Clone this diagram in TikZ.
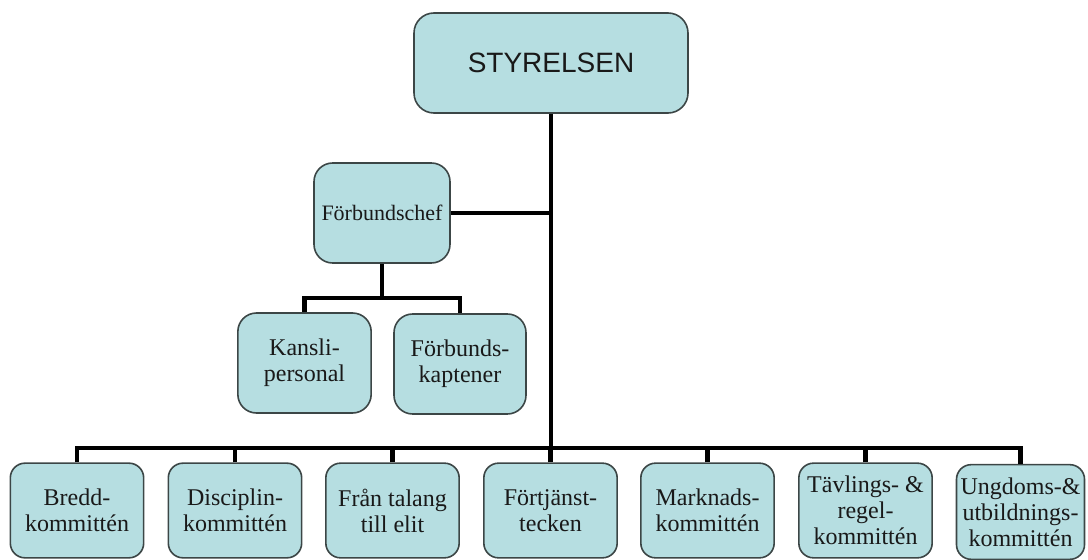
\documentclass[tikz,border=0pt]{standalone}
\usepackage{fontspec}
\setmainfont{Liberation Serif}
\newfontfamily\headfont{Liberation Sans}
\usepackage{xcolor}
\definecolor{boxfill}{RGB}{182,222,225}
\definecolor{boxline}{RGB}{60,70,70}

\begin{document}
\begin{tikzpicture}[x=0.75pt, y=-0.75pt,
		unit/.style={draw=boxline, line width=1.2pt, fill=boxfill, rounded corners=11pt, align=center, inner sep=0pt, text=black!90, font=\fontsize{18}{19.5}\selectfont},
		board/.style={unit, minimum width=205.5pt, minimum height=75pt, rounded corners=15pt, font=\headfont\fontsize{21}{24}\selectfont},
		mid/.style={unit, minimum width=100pt, minimum height=75pt, rounded corners=14pt},
		comm/.style={unit, minimum width=100pt, minimum height=71pt},
		link/.style={line width=3.4pt}]
	\useasboundingbox (0,0) rectangle (1088,560);
	
	\node[board] (styrelsen) at (551,63) {STYRELSEN};
	
	\node[mid, minimum width=102pt, font=\fontsize{16.5}{18}\selectfont] (chef) at (382,213) {Förbundschef};
	\node[mid] (kansli) at (304.5,363) {Kansli-\\personal};
	\node[mid, minimum width=99pt] (kaptener) at (460,364) {Förbunds-\\kaptener};
	
	\node[comm] (bredd) at (77,510.5) {Bredd-\\kommittén};
	\node[comm] (disciplin) at (235,510.5) {Disciplin-\\kommittén};
	\node[comm] (talang) at (392.5,510.5) {Från talang\\till elit};
	\node[comm] (fortjanst) at (550.5,510.5) {Förtjänst-\\tecken};
	\node[comm] (marknad) at (707.5,510.5) {Marknads-\\kommittén};
	\node[comm] (tavling) at (865.5,510.5) {Tävlings- \&\\regel-\\kommittén};
	\node[comm, minimum width=96pt] (ungdom) at (1020.5,512) {Ungdoms-\&\\utbildnings-\\kommittén};
	
	\coordinate (bus) at (551,448);
	\coordinate (subbus) at (382,298);
	
	\draw[link] (styrelsen.south) -- (bus);
	\draw[link] (chef.east) -- (chef.east -| styrelsen.south);
	\draw[link] (chef.south) -- (subbus);
	\draw[link] (kansli.north) |- (subbus);
	\draw[link] (kaptener.north) |- (subbus);
	\foreach \unitname in {bredd, disciplin, talang, fortjanst, marknad, tavling, ungdom}
		\draw[link] (\unitname.north) |- (bus);
\end{tikzpicture}
\end{document}
